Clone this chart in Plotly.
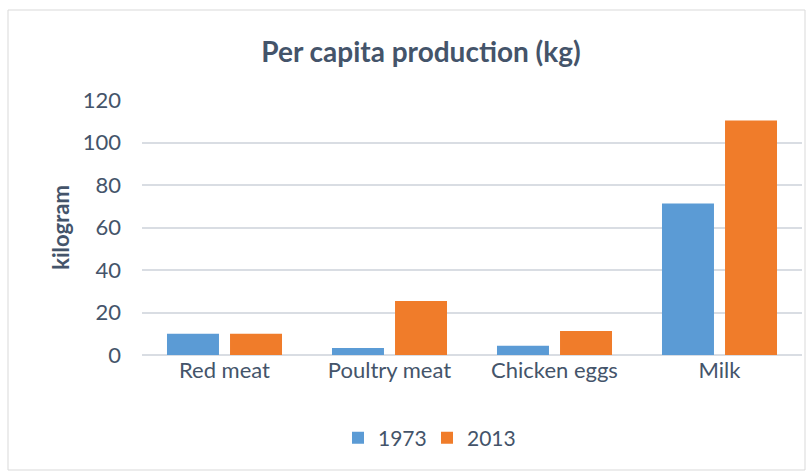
import plotly.graph_objects as go

categories = ["Red meat", "Poultry meat", "Chicken eggs", "Milk"]
values_1973 = [10, 3.3, 4.3, 71.3]
values_2013 = [10, 25.4, 11.3, 110.3]
series_names = ["1973", "2013"]
y_ticks = [0, 20, 40, 60, 80, 100, 120]

text_color = "#44546A"
font_family = "Lato, 'Open Sans', sans-serif"

fig = go.Figure()
fig.add_trace(go.Bar(x=categories, y=values_1973, name=series_names[0],
                     marker=dict(color="#5B9BD5", line=dict(width=0))))
fig.add_trace(go.Bar(x=categories, y=values_2013, name=series_names[1],
                     marker=dict(color="#F07C2A", line=dict(width=0))))

W, H = 810, 474
L, R, T, B = 142, 8, 100, 119

fig.update_layout(
    width=W, height=H,
    margin=dict(l=L, r=R, t=T, b=B, autoexpand=False),
    paper_bgcolor="white", plot_bgcolor="white",
    barmode="group", bargap=0.236, bargroupgap=0.175,
    font=dict(family=font_family, color=text_color, size=21),
    title=dict(text="<b>Per capita production (kg)</b>", x=421 / W, xanchor="center",
               y=1 - 52 / H, yanchor="middle",
               font=dict(size=28, color=text_color, family=font_family)),
    showlegend=True,
    legend=dict(orientation="h", x=427 / W, xanchor="center", xref="container",
                y=1 - 438 / H, yanchor="middle", yref="container",
                font=dict(size=21, color=text_color), traceorder="normal",
                itemwidth=30, entrywidth=44, entrywidthmode="pixels"),
    xaxis=dict(showgrid=False, showline=False, ticks="", automargin=False,
               tickfont=dict(size=22, color=text_color)),
    yaxis=dict(range=[0, 120], tickvals=y_ticks, showgrid=True, gridcolor="#D9DDE3", gridwidth=1.5,
               zeroline=True, zerolinecolor="#D9DDE3", zerolinewidth=1.5, showline=False, ticks="",
               ticklabelstandoff=20, automargin=False,
               tickfont=dict(size=22, color=text_color),
               title=dict(text="<b>kilogram</b>", standoff=7, font=dict(size=22, color=text_color))),
)

fig.add_shape(type="rect", xref="paper", yref="paper",
              x0=(8 - L) / (W - L - R), x1=(805 - L) / (W - L - R),
              y0=(H - B - 470) / (H - T - B), y1=(H - B - 10) / (H - T - B),
              line=dict(color="#D9D9D9", width=1), fillcolor="rgba(0,0,0,0)", layer="below")

fig.write_html("out.html", config={"displayModeBar": False},
               post_script="document.body.style.margin='0';")
